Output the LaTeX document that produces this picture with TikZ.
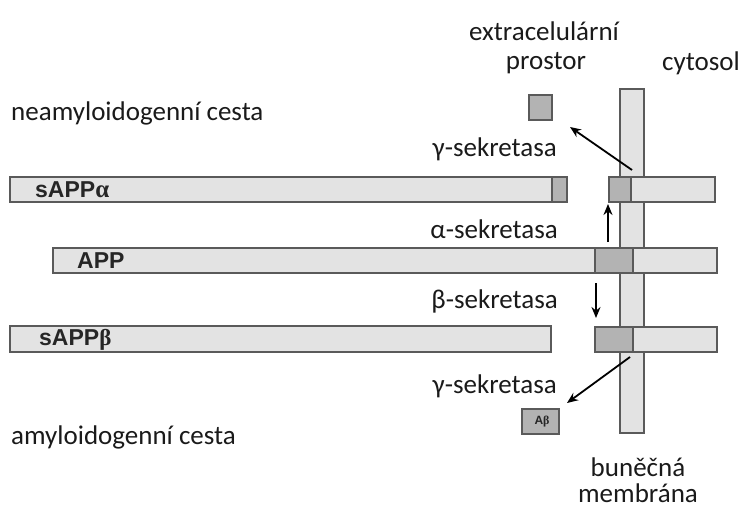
\documentclass[tikz,border=0pt]{standalone}
\usepackage{fontspec}
\setmainfont{Carlito}
\newfontfamily\barfont{Liberation Sans}
\newfontfamily\grkfont{Liberation Serif}
\usetikzlibrary{arrows.meta}
\definecolor{barlight}{HTML}{E3E3E3}
\definecolor{bardark}{HTML}{B3B3B3}
\definecolor{barline}{HTML}{5A5A5A}
\definecolor{txt}{HTML}{1A1A1A}
\tikzset{
  bar/.style={draw=barline, line width=1.2pt, fill=barlight, anchor=north west, inner sep=0pt, outer sep=0pt},
  darkseg/.style={draw=barline, line width=1.2pt, fill=bardark, anchor=north west, inner sep=0pt, outer sep=0pt},
  lbl/.style={text=txt, font=\fontsize{27}{30}\selectfont, inner sep=0pt},
  barlbl/.style={text=black!85, font=\barfont\bfseries\fontsize{23}{24}\selectfont, inner sep=0pt, anchor=west},
  arr/.style={line width=1.8pt, -{Stealth[length=11pt,width=9pt]}},
}
\begin{document}
\begin{tikzpicture}[x=1pt,y=-1pt]
\useasboundingbox (0,0) rectangle (742,508);
% membrane
\node[bar, minimum width=24pt, minimum height=344pt] (mem) at (620,89) {};
% row 1: sAPPalpha
\node[bar, minimum width=557pt, minimum height=25pt] (salpha) at (10,177) {};
\node[darkseg, minimum width=15pt, minimum height=25pt] (salphaend) at (552,177) {};
\node[bar, minimum width=106pt, minimum height=25pt] (r1) at (609,177) {};
\node[darkseg, minimum width=22pt, minimum height=25pt] (r1d) at (609,177) {};
% row 2: APP
\node[bar, minimum width=664pt, minimum height=25pt] (app) at (53,248) {};
\node[darkseg, minimum width=38pt, minimum height=25pt] (appd) at (595,248) {};
% row 3: sAPPbeta
\node[bar, minimum width=541pt, minimum height=26pt] (sbeta) at (10,326) {};
\node[bar, minimum width=122pt, minimum height=25pt] (r3) at (595,327) {};
\node[darkseg, minimum width=38pt, minimum height=25pt] (r3d) at (595,327) {};
% small fragments
\node[darkseg, minimum width=23pt, minimum height=25pt] (p3) at (529,95) {};
\node[darkseg, minimum width=37pt, minimum height=25pt] (abeta) at (522,409) {};
\node[text=black!85, font=\barfont\bfseries\fontsize{12}{14}\selectfont, inner sep=0pt] (abetatxt) at (542,421.5) {A{\grkfont β}};
% bar labels
\node[barlbl] (lsalpha) at (35,189.5) {sAPP{\grkfont\fontsize{25}{26}\selectfont α}};
\node[barlbl] (lapp) at (77,261) {APP};
\node[barlbl] (lsbeta) at (39,339.5) {sAPP{\grkfont β}};
% arrows
\coordinate (a1s) at (632,170);
\coordinate (a1e) at (570,127);
\coordinate (a2s) at (608,242);
\coordinate (a2e) at (608,204);
\coordinate (a3s) at (596,283);
\coordinate (a3e) at (596,318);
\coordinate (a4s) at (630,357);
\coordinate (a4e) at (567,403);
\draw[arr] (a1s) -- (a1e);
\draw[arr] (a2s) -- (a2e);
\draw[arr] (a3s) -- (a3e);
\draw[arr] (a4s) -- (a4e);
% text labels
\node[lbl] (t1) at (544,31) {extracelulární};
\node[lbl] (t2) at (546,63) {prostor};
\node[lbl] (t3) at (701,63) {cytosol};
\node[lbl, anchor=west] (t4) at (11,113) {neamyloidogenní cesta};
\node[lbl, anchor=east] (t5) at (557,149) {γ-sekretasa};
\node[lbl, anchor=east] (t6) at (558,229) {α-sekretasa};
\node[lbl, anchor=east] (t7) at (558,301) {β-sekretasa};
\node[lbl, anchor=east] (t8) at (557,386) {γ-sekretasa};
\node[lbl, anchor=west] (t9) at (11,437) {amyloidogenní cesta};
\node[lbl, anchor=base] (t10) at (638,476) {buněčná};
\node[lbl, anchor=base] (t11) at (638,502) {membrána};
\end{tikzpicture}
\end{document}
